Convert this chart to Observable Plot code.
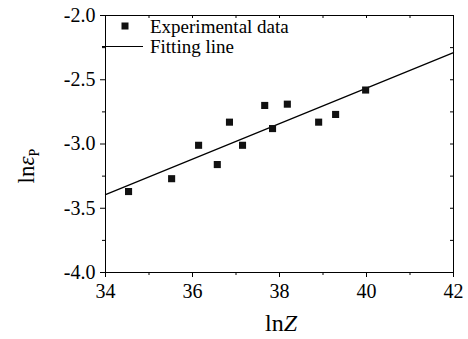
<!DOCTYPE html>
<html>
<head>
<meta charset="utf-8">
<script src="https://cdn.jsdelivr.net/npm/d3@7"></script>
<script src="https://cdn.jsdelivr.net/npm/@observablehq/plot@0.6"></script>
<style>
  body { margin: 0; background: #fff; }
  svg, svg text { font-family: "Liberation Serif", "DejaVu Serif", serif !important; }
</style>
</head>
<body>
<div id="chart"></div>
<script>
// Experimental points: ln Z versus ln(epsilon_p)
const lnZ  = [34.53, 35.52, 36.14, 36.57, 36.85, 37.15, 37.66, 37.84, 38.18, 38.90, 39.29, 39.98];
const lnEp = [-3.37, -3.27, -3.01, -3.16, -2.83, -3.01, -2.70, -2.88, -2.69, -2.83, -2.77, -2.58];

// Linear fit, evaluated at the ends of the x range
const fitZ  = [34, 42];
const fitEp = [-3.394, -2.289];

// Axis ticks
const xMajor = [34, 36, 38, 40, 42];
const xMinor = [35, 37, 39, 41];
const yMajor = [-4.0, -3.5, -3.0, -2.5, -2.0];
const yMinor = [-3.75, -3.25, -2.75, -2.25];

const legendLabels = ["Experimental data", "Fitting line"];

const W = 468, H = 339, mL = 105, mR = 15, mT = 15, mB = 67;
const pw = W - mL - mR, ph = H - mT - mB;
const serif = "'Liberation Serif', serif";

const points = lnZ.map((z, i) => ({z, e: lnEp[i]}));
const fit = fitZ.map((z, i) => ({z, e: fitEp[i]}));
const xAll = xMajor.concat(xMinor);
const yAll = yMajor.concat(yMinor);

const chart = Plot.plot({
  width: W, height: H,
  marginLeft: mL, marginRight: mR, marginTop: mT, marginBottom: mB,
  style: {background: "white", color: "black", fontFamily: serif},
  x: {domain: [34, 42]},
  y: {domain: [-4, -2]},
  marks: [
    Plot.frame({stroke: "black", strokeWidth: 1}),
    // bottom & left: outward ticks with labels
    Plot.axisX(xMajor, {tickSize: 5, tickPadding: 6, fontSize: 20, fontFamily: serif, label: null, tickFormat: d => String(d)}),
    Plot.axisY(yMajor, {tickSize: 5, tickPadding: 5, fontSize: 20, fontFamily: serif, label: null, tickFormat: d => d.toFixed(1)}),
    Plot.tickX(xMinor, {x: d => d, insetTop: ph, insetBottom: -3, stroke: "black"}),
    Plot.tickY(yMinor, {y: d => d, insetRight: pw, insetLeft: -3, stroke: "black"}),
    // top & right: short inward ticks
    Plot.tickX(xAll, {x: d => d, insetBottom: ph - 3, stroke: "black"}),
    Plot.tickY(yAll, {y: d => d, insetLeft: pw - 3, stroke: "black"}),
    Plot.line(fit, {x: "z", y: "e", stroke: "black", strokeWidth: 1.2}),
    Plot.dot(points, {x: "z", y: "e", symbol: "square", r: 4, fill: "#111", stroke: null})
  ]
});

document.getElementById("chart").append(chart);

const svg = d3.select(chart);

// legend
const lg = svg.append("g")
  .attr("font-size", 19)
  .attr("font-family", serif)
  .attr("text-anchor", "start")
  .attr("fill", "black");
lg.append("rect").attr("x", 121.5).attr("y", 22.5).attr("width", 7).attr("height", 7).attr("fill", "#111");
lg.append("text").attr("x", 150).attr("y", 33).text(legendLabels[0]);
lg.append("line").attr("x1", 102).attr("x2", 143).attr("y1", 46.5).attr("y2", 46.5)
  .attr("stroke", "black").attr("stroke-width", 1.2);
lg.append("text").attr("x", 150).attr("y", 53).text(legendLabels[1]);

// y-axis title: ln ε_P
const yt = svg.append("text")
  .attr("transform", "translate(34,166) rotate(-90)")
  .attr("text-anchor", "middle")
  .attr("font-family", serif)
  .attr("font-size", 23)
  .attr("fill", "black");
yt.append("tspan").text("ln");
yt.append("tspan").attr("font-style", "italic").text("ε");
yt.append("tspan").attr("font-size", 14).attr("dy", 5).text("P");

// x-axis title: ln Z
const xt = svg.append("text")
  .attr("x", 281).attr("y", 331)
  .attr("text-anchor", "middle")
  .attr("font-family", serif)
  .attr("font-size", 24)
  .attr("fill", "black");
xt.append("tspan").text("ln");
xt.append("tspan").attr("font-style", "italic").text("Z");
</script>
</body>
</html>
